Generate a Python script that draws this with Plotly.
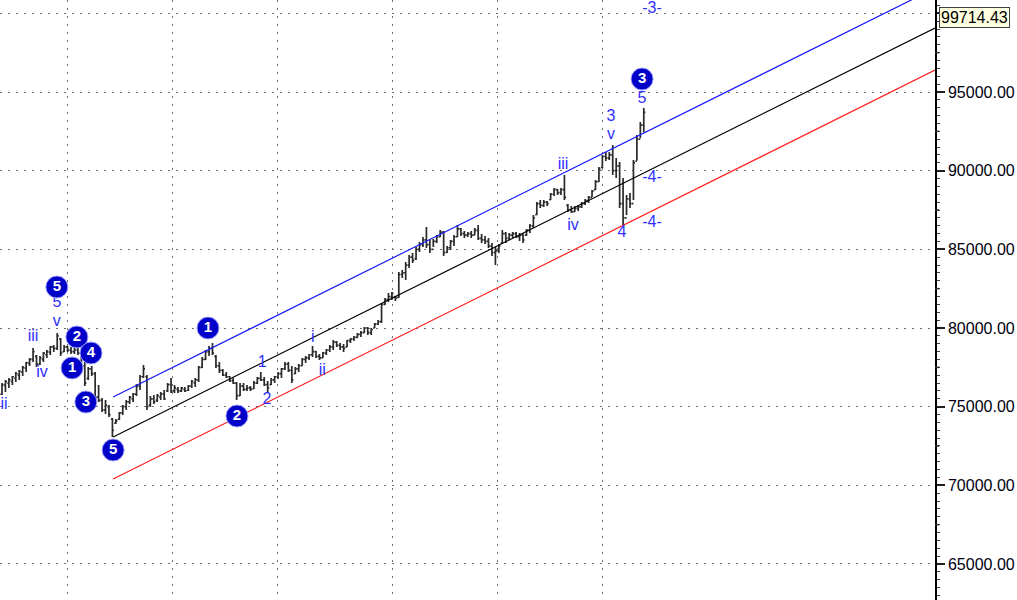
import plotly.graph_objects as go

# ---------------- data ----------------
highs = [76500,76700,76820,76950,77200,77330,77580,77840,78090,78730,
         78280,78220,78480,78600,78860,78920,79680,79360,78920,78860,
         78790,78730,78790,78600,78480,77520,77580,77200,76380,75550,
         75420,75110,74280,74220,74660,75110,75420,75680,75870,76440,
         77010,77650,77010,75680,75740,75800,75930,76060,76500,76820,
         76380,76250,76250,76250,76380,76700,76820,77580,78160,78600,
         78860,79050,78280,77840,77390,77200,76950,76820,76570,76500,
         76500,76380,76310,76630,76890,77200,76890,76630,76820,76950,
         77200,77460,77840,77840,77580,77520,77710,78090,78220,78350,
         78860,78540,78350,78480,78670,78920,79240,79170,79050,78980,
         79240,79360,79490,79680,79810,80060,80060,80000,80320,80510,
         81590,81910,82230,82290,82040,83560,83690,84200,84640,84770,
         85150,85470,85780,86420,85590,85660,85910,86230,86160,85210,
         85590,85910,86550,86360,86160,86100,86160,86360,86550,85970,
         85850,85720,85400,85150,85340,86230,86100,86040,86100,86100,
         86040,86040,86290,86610,87180,88010,88140,88140,88070,88580,
         88900,88830,88900,89720,87880,87750,87750,87820,88010,88200,
         88390,88770,89410,90230,91000,91190,91190,91630,90800,90550,
         89530,88450,88580,90680,92270,93090,93980]
lows = [75740,75930,76190,76380,76570,76700,76950,77200,77580,77840,
        77520,77650,77840,78090,78280,78480,78600,78220,78480,78480,
        78350,78350,78280,77460,76310,76700,76950,75420,75300,74660,
        74530,74340,73070,73900,74150,74470,74790,75170,75300,75680,
        76060,76820,74790,74980,75170,75300,75420,75420,75930,75870,
        75870,75870,75930,75930,76000,76190,76250,76570,77460,77970,
        78220,78280,77460,77140,76950,76820,76570,76440,75420,75680,
        76000,76000,76000,76120,76440,76630,76310,75870,76380,76500,
        76760,76820,77330,77200,76500,77080,77200,77580,77780,77970,
        78160,78090,77970,78090,78280,78480,78600,78790,78600,78480,
        78790,79050,79170,79360,79430,79680,79560,79560,80000,80190,
        80320,81460,81650,81780,81720,81910,83180,83050,83810,84130,
        84320,84830,85150,85090,84770,85150,85400,85780,84580,84770,
        84960,85210,85780,85850,85720,85780,85720,85910,85590,85400,
        85340,85090,84580,84000,84770,85400,85400,85590,85720,85720,
        85530,85400,85850,86040,86360,87180,87630,87690,87750,88140,
        88390,88450,88450,88140,87370,87310,87370,87440,87630,87820,
        87950,88330,88770,89280,90170,90620,90680,89720,89530,87630,
        86550,87180,87630,88140,90650,92080,92430]
opens = [75800,76350,76500,76600,76800,77000,77200,77450,77750,78000,
         78200,77700,78000,78300,78450,78800,78700,79300,78500,78800,
         78600,78500,78600,78400,77600,76800,77400,77100,75600,75400,
         74800,75000,74200,73950,74200,74600,75000,75300,75500,75800,
         76300,76900,76900,75100,75500,75400,75600,75800,76000,76400,
         76000,76100,76000,76100,76050,76300,76500,76700,77500,78000,
         78500,78700,78200,77600,77300,77000,76900,76650,76500,75700,
         76300,76100,76200,76150,76500,76800,76700,76400,76400,76700,
         76900,77100,77400,77700,77300,77100,77400,77600,78000,78100,
         78300,78500,78200,78100,78400,78600,78800,79100,78900,78800,
         78800,79200,79300,79400,79600,79700,80000,79700,80000,80250,
         80400,81500,81800,82000,82000,81950,83400,83500,84000,84500,
         84400,85000,85300,85600,85300,85000,85500,85800,86100,84800,
         85100,85500,85800,86300,86000,85900,86000,85900,86200,85700,
         85600,85500,85200,84800,84900,85400,86000,85700,85900,86000,
         85800,85900,85900,86200,86500,87200,87900,87800,88000,88150,
         88500,88800,88600,88800,87800,87500,87400,87600,87700,87900,
         88100,88300,88800,89300,90200,90900,90800,91000,90000,90300,
         87900,87000,88200,87900,90600,92000,92900]
closes = [76400,76600,76700,76900,77100,77250,77500,77800,78000,78500,
          77700,78100,78400,78500,78800,78700,79500,78400,78800,78600,
          78500,78600,78400,77600,76500,77400,77100,75600,75400,74800,
          75100,74500,73500,74100,74600,75000,75300,75600,75800,76300,
          76900,77400,75000,75500,75300,75700,75800,75500,76400,76000,
          76200,76000,76200,76000,76300,76600,76700,77500,78000,78500,
          78700,78400,77600,77300,77000,76900,76650,76500,75700,76300,
          76100,76200,76100,76500,76800,76700,76400,76200,76700,76900,
          77100,77400,77700,77300,76700,77400,77600,78000,78100,78300,
          78500,78200,78100,78400,78600,78800,79100,78900,78800,78700,
          79200,79300,79400,79600,79700,80000,79700,79900,80250,80400,
          81500,81800,82000,82200,81900,83400,83500,84000,84500,84300,
          85000,85300,85600,85300,85000,85500,85800,86100,84800,85100,
          85500,85800,86300,86000,85900,86000,85900,86200,85700,85600,
          85500,85200,84800,84900,85200,86000,85700,85900,86000,85800,
          85900,85600,86200,86500,87000,87900,87800,88000,87900,88500,
          88800,88600,88800,88300,87500,87400,87600,87700,87900,88100,
          88300,88700,89300,90100,90900,90800,91000,90000,90300,87900,
          87000,88200,87900,90500,92000,92900,93700]
bar_index = list(range(len(closes)))

# channel lines (bar index, price)
channel_x = [32.2, 270.4]
blue_line = [75610, 101600]
black_line = [73070, 99060]
red_line = [70400, 96390]

# month separators (bar index)
month_grid = [19.1, 49.3, 79.7, 113.3, 143.5, 173.9]

# price axis
price_ticks = [65000, 70000, 75000, 80000, 85000, 90000, 95000, 100000]
price_ticktext = ["65000.00", "70000.00", "75000.00", "80000.00",
                  "85000.00", "90000.00", "95000.00", ""]
mid_ticks = [62500, 67500, 72500, 77500, 82500, 87500, 92500, 97500]
last_tag = 99714.43

# Elliott wave labels
circle_x = [15.9, 21.7, 25.8, 20.3, 24.3, 32.2, 59.7, 68.1, 185.5]
circle_y = [82606, 79428, 78411, 77458, 75297, 72246, 80000, 74407, 95827]
circle_txt = ["5", "2", "4", "1", "3", "5", "1", "2", "3"]

wave_x = [0.6, 9.0, 11.6, 15.9, 15.9, 75.4, 76.8, 90.1, 92.8,
          162.6, 165.5, 176.5, 176.5, 179.7, 185.5, 188.4, 188.4, 188.4]
wave_y = [75106, 79428, 77140, 81560, 80382, 77776, 75424, 79365, 77267,
          90361, 86483, 93412, 92267, 86039, 94556, 89534, 86674, 100300]
wave_txt = ["ii", "iii", "iv", "5", "v", "1", "2", "i", "ii",
            "iii", "iv", "3", "v", "4", "5", "-4-", "-4-", "-3-"]

# ---------------- figure ----------------
fig = go.Figure()

fig.add_trace(go.Ohlc(
    x=bar_index, open=opens, high=highs, low=lows, close=closes,
    increasing=dict(line=dict(color="#2a2a2a", width=1.7)),
    decreasing=dict(line=dict(color="#2a2a2a", width=1.7)),
    tickwidth=0.45, showlegend=False, hoverinfo="skip"))

for yy, col in [(blue_line, "#1a1aff"), (black_line, "#000000"), (red_line, "#ff2020")]:
    fig.add_trace(go.Scatter(x=channel_x, y=yy, mode="lines",
                             line=dict(color=col, width=1.2),
                             showlegend=False, hoverinfo="skip"))

fig.add_trace(go.Scatter(
    x=wave_x, y=wave_y, mode="text", text=wave_txt,
    textfont=dict(family="Liberation Sans, Arial", size=16, color="#3030ff"),
    textposition="middle center", cliponaxis=False,
    showlegend=False, hoverinfo="skip"))

fig.add_trace(go.Scatter(
    x=circle_x, y=circle_y, mode="markers+text", text=circle_txt,
    marker=dict(size=22, color="#0000c8", line=dict(color="#a0a0ff", width=1)),
    textfont=dict(family="Liberation Sans, Arial", size=15, color="white", weight="bold"),
    textposition="middle center", cliponaxis=False,
    showlegend=False, hoverinfo="skip"))

# medium ticks on price axis
shapes = []
for v in mid_ticks:
    shapes.append(dict(type="line", xref="paper", yref="y", x0=1.0, x1=1.0045,
                       y0=v, y1=v, line=dict(color="#303030", width=1.5)))

fig.update_layout(
    width=1017, height=600,
    margin=dict(l=0, r=82, t=0, b=0),
    paper_bgcolor="white", plot_bgcolor="white",
    shapes=shapes,
    xaxis=dict(range=[-0.58, 270.4], showticklabels=False, ticks="",
               tickvals=month_grid, showgrid=True, gridcolor="#707070",
               griddash="2px,6px", gridwidth=1, zeroline=False,
               showline=False, rangeslider=dict(visible=False), fixedrange=True),
    yaxis=dict(range=[62711, 100848], side="right",
               tickvals=price_ticks, ticktext=price_ticktext,
               ticks="outside", ticklen=8, tickwidth=1.5, tickcolor="#202020",
               tickfont=dict(family="Liberation Sans, Arial", size=16, color="#000010"),
               showgrid=True, gridcolor="#707070", griddash="2px,6px", gridwidth=1,
               showline=True, linecolor="#000000", linewidth=1.5,
               zeroline=False,
               minor=dict(dtick=500, ticks="outside", ticklen=3,
                          tickcolor="#404040", tickwidth=1, showgrid=False)),
    annotations=[dict(xref="paper", yref="y", x=1.0, y=last_tag,
                      xanchor="left", yanchor="middle", xshift=4,
                      text="99714.43", showarrow=False,
                      font=dict(family="Liberation Sans, Arial", size=16, color="#000000"),
                      bgcolor="#ffffe1", bordercolor="#404040", borderwidth=1,
                      borderpad=1)],
)

fig.write_html("out.html", config={"displayModeBar": False},
               post_script="document.body.style.margin='0';document.body.style.overflow='hidden';")
